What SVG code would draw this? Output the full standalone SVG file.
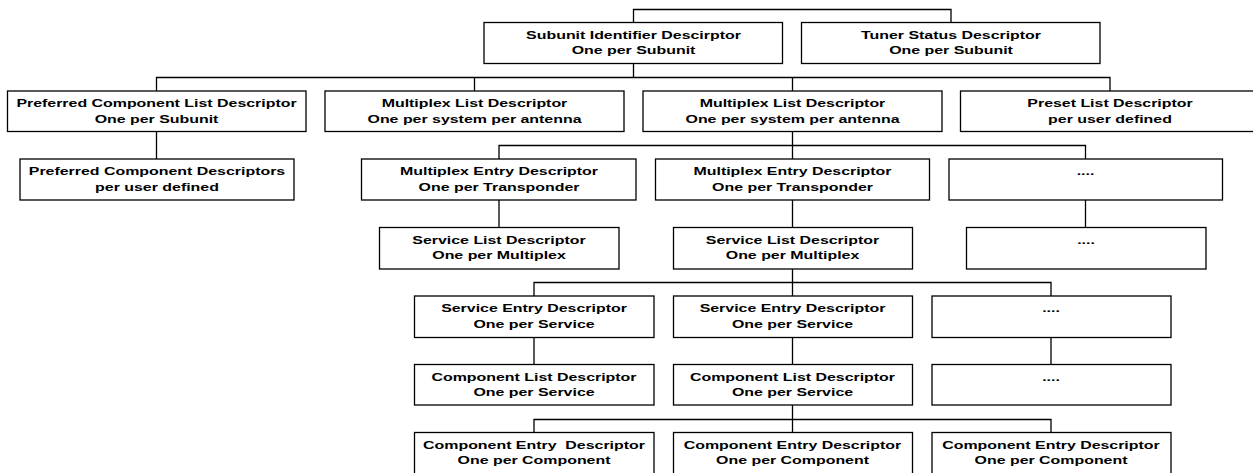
<svg xmlns="http://www.w3.org/2000/svg" width="1253" height="473" viewBox="0 0 1253 473">
  <style>
    .box { fill: #ffffff; stroke: #000000; stroke-width: 1.3; }
    .lbl { font-family: "Liberation Sans", Arial, sans-serif; font-weight: bold; font-size: 11.5px; fill: #000000; text-anchor: middle; }
    .wire { fill: none; stroke: #000000; stroke-width: 1.3; }
  </style>
  <rect width="1253" height="473" fill="#ffffff"/>

  <!-- tree connectors -->
  <g id="connectors">
    <path class="wire" d="M633.5 22.5 V9.5 H951 V22.5
      M633.5 63.5 V77.5
      M156.5 91 V77.5 H1110 V91
      M474.5 77.5 V91
      M792.5 77.5 V91
      M156.5 131.5 V159
      M792.5 131.5 V159
      M499 159 V145.5 H1085.5 V159
      M499 200 V227.5
      M792.5 200 V227.5
      M1085.5 200 V227.5
      M792.5 269 V296
      M534 296 V282.5 H1051 V296
      M534 337.5 V364.5
      M792.5 337.5 V364.5
      M1051 337.5 V364.5
      M792.5 405 V432.5
      M534 432.5 V419.5 H1051 V432.5"/>
  </g>

  <!-- row 1 -->
  <g id="subunit-identifier">
    <rect class="box" x="484" y="22.5" width="298.5" height="41"/>
    <text class="lbl" transform="translate(633.5 0) scale(1.385 1)"><tspan x="0" y="39">Subunit Identifier Descirptor</tspan><tspan x="0" y="54.5">One per Subunit</tspan></text>
  </g>
  <g id="tuner-status">
    <rect class="box" x="801.5" y="22.5" width="298.5" height="41"/>
    <text class="lbl" transform="translate(951 0) scale(1.385 1)"><tspan x="0" y="39">Tuner Status Descriptor</tspan><tspan x="0" y="54.5">One per Subunit</tspan></text>
  </g>

  <!-- row 2 -->
  <g id="preferred-component-list">
    <rect class="box" x="7.5" y="91" width="298.5" height="40.5"/>
    <text class="lbl" transform="translate(156.5 0) scale(1.385 1)"><tspan x="0" y="107.5">Preferred Component List Descriptor</tspan><tspan x="0" y="123">One per Subunit</tspan></text>
  </g>
  <g id="multiplex-list-1">
    <rect class="box" x="325" y="91" width="299" height="40.5"/>
    <text class="lbl" transform="translate(474.5 0) scale(1.385 1)"><tspan x="0" y="107.5">Multiplex List Descriptor</tspan><tspan x="0" y="123">One per system per antenna</tspan></text>
  </g>
  <g id="multiplex-list-2">
    <rect class="box" x="643" y="91" width="299" height="40.5"/>
    <text class="lbl" transform="translate(792.5 0) scale(1.385 1)"><tspan x="0" y="107.5">Multiplex List Descriptor</tspan><tspan x="0" y="123">One per system per antenna</tspan></text>
  </g>
  <g id="preset-list">
    <rect class="box" x="960.5" y="91" width="299" height="40.5"/>
    <text class="lbl" transform="translate(1110 0) scale(1.385 1)"><tspan x="0" y="107.5">Preset List Descriptor</tspan><tspan x="0" y="123">per user defined</tspan></text>
  </g>

  <!-- row 3 -->
  <g id="preferred-component-descriptors">
    <rect class="box" x="20" y="159" width="274" height="41"/>
    <text class="lbl" transform="translate(157 0) scale(1.385 1)"><tspan x="0" y="175.5">Preferred Component Descriptors</tspan><tspan x="0" y="191">per user defined</tspan></text>
  </g>
  <g id="multiplex-entry-1">
    <rect class="box" x="361.5" y="159" width="274.5" height="41"/>
    <text class="lbl" transform="translate(499 0) scale(1.385 1)"><tspan x="0" y="175.5">Multiplex Entry Descriptor</tspan><tspan x="0" y="191">One per Transponder</tspan></text>
  </g>
  <g id="multiplex-entry-2">
    <rect class="box" x="655.5" y="159" width="274" height="41"/>
    <text class="lbl" transform="translate(792.5 0) scale(1.385 1)"><tspan x="0" y="175.5">Multiplex Entry Descriptor</tspan><tspan x="0" y="191">One per Transponder</tspan></text>
  </g>
  <g id="multiplex-entry-more">
    <rect class="box" x="949" y="159" width="273.5" height="41"/>
    <text class="lbl" transform="translate(1085.5 0) scale(1.385 1)"><tspan x="0" y="175.5">....</tspan></text>
  </g>

  <!-- row 4 -->
  <g id="service-list-1">
    <rect class="box" x="379.5" y="227.5" width="239.5" height="41.5"/>
    <text class="lbl" transform="translate(499 0) scale(1.385 1)"><tspan x="0" y="244">Service List Descriptor</tspan><tspan x="0" y="259.5">One per Multiplex</tspan></text>
  </g>
  <g id="service-list-2">
    <rect class="box" x="673.5" y="227.5" width="239" height="41.5"/>
    <text class="lbl" transform="translate(792.5 0) scale(1.385 1)"><tspan x="0" y="244">Service List Descriptor</tspan><tspan x="0" y="259.5">One per Multiplex</tspan></text>
  </g>
  <g id="service-list-more">
    <rect class="box" x="966.5" y="227.5" width="239.5" height="41.5"/>
    <text class="lbl" transform="translate(1086 0) scale(1.385 1)"><tspan x="0" y="244">....</tspan></text>
  </g>

  <!-- row 5 -->
  <g id="service-entry-1">
    <rect class="box" x="414.5" y="296" width="239.5" height="41.5"/>
    <text class="lbl" transform="translate(534 0) scale(1.385 1)"><tspan x="0" y="312.5">Service Entry Descriptor</tspan><tspan x="0" y="328">One per Service</tspan></text>
  </g>
  <g id="service-entry-2">
    <rect class="box" x="673.5" y="296" width="239" height="41.5"/>
    <text class="lbl" transform="translate(792.5 0) scale(1.385 1)"><tspan x="0" y="312.5">Service Entry Descriptor</tspan><tspan x="0" y="328">One per Service</tspan></text>
  </g>
  <g id="service-entry-more">
    <rect class="box" x="932" y="296" width="239" height="41.5"/>
    <text class="lbl" transform="translate(1051 0) scale(1.385 1)"><tspan x="0" y="312.5">....</tspan></text>
  </g>

  <!-- row 6 -->
  <g id="component-list-1">
    <rect class="box" x="414.5" y="364.5" width="239.5" height="40.5"/>
    <text class="lbl" transform="translate(534 0) scale(1.385 1)"><tspan x="0" y="381">Component List Descriptor</tspan><tspan x="0" y="396.5">One per Service</tspan></text>
  </g>
  <g id="component-list-2">
    <rect class="box" x="673.5" y="364.5" width="239" height="40.5"/>
    <text class="lbl" transform="translate(792.5 0) scale(1.385 1)"><tspan x="0" y="381">Component List Descriptor</tspan><tspan x="0" y="396.5">One per Service</tspan></text>
  </g>
  <g id="component-list-more">
    <rect class="box" x="932" y="364.5" width="239" height="40.5"/>
    <text class="lbl" transform="translate(1051 0) scale(1.385 1)"><tspan x="0" y="381">....</tspan></text>
  </g>

  <!-- row 7 -->
  <g id="component-entry-1">
    <rect class="box" x="414.5" y="432.5" width="239.5" height="41.5"/>
    <text class="lbl" transform="translate(534 0) scale(1.385 1)"><tspan x="0" y="449">Component Entry&#160; Descriptor</tspan><tspan x="0" y="464.5">One per Component</tspan></text>
  </g>
  <g id="component-entry-2">
    <rect class="box" x="673.5" y="432.5" width="239" height="41.5"/>
    <text class="lbl" transform="translate(792.5 0) scale(1.385 1)"><tspan x="0" y="449">Component Entry Descriptor</tspan><tspan x="0" y="464.5">One per Component</tspan></text>
  </g>
  <g id="component-entry-3">
    <rect class="box" x="932" y="432.5" width="239" height="41.5"/>
    <text class="lbl" transform="translate(1051 0) scale(1.385 1)"><tspan x="0" y="449">Component Entry Descriptor</tspan><tspan x="0" y="464.5">One per Component</tspan></text>
  </g>
</svg>
